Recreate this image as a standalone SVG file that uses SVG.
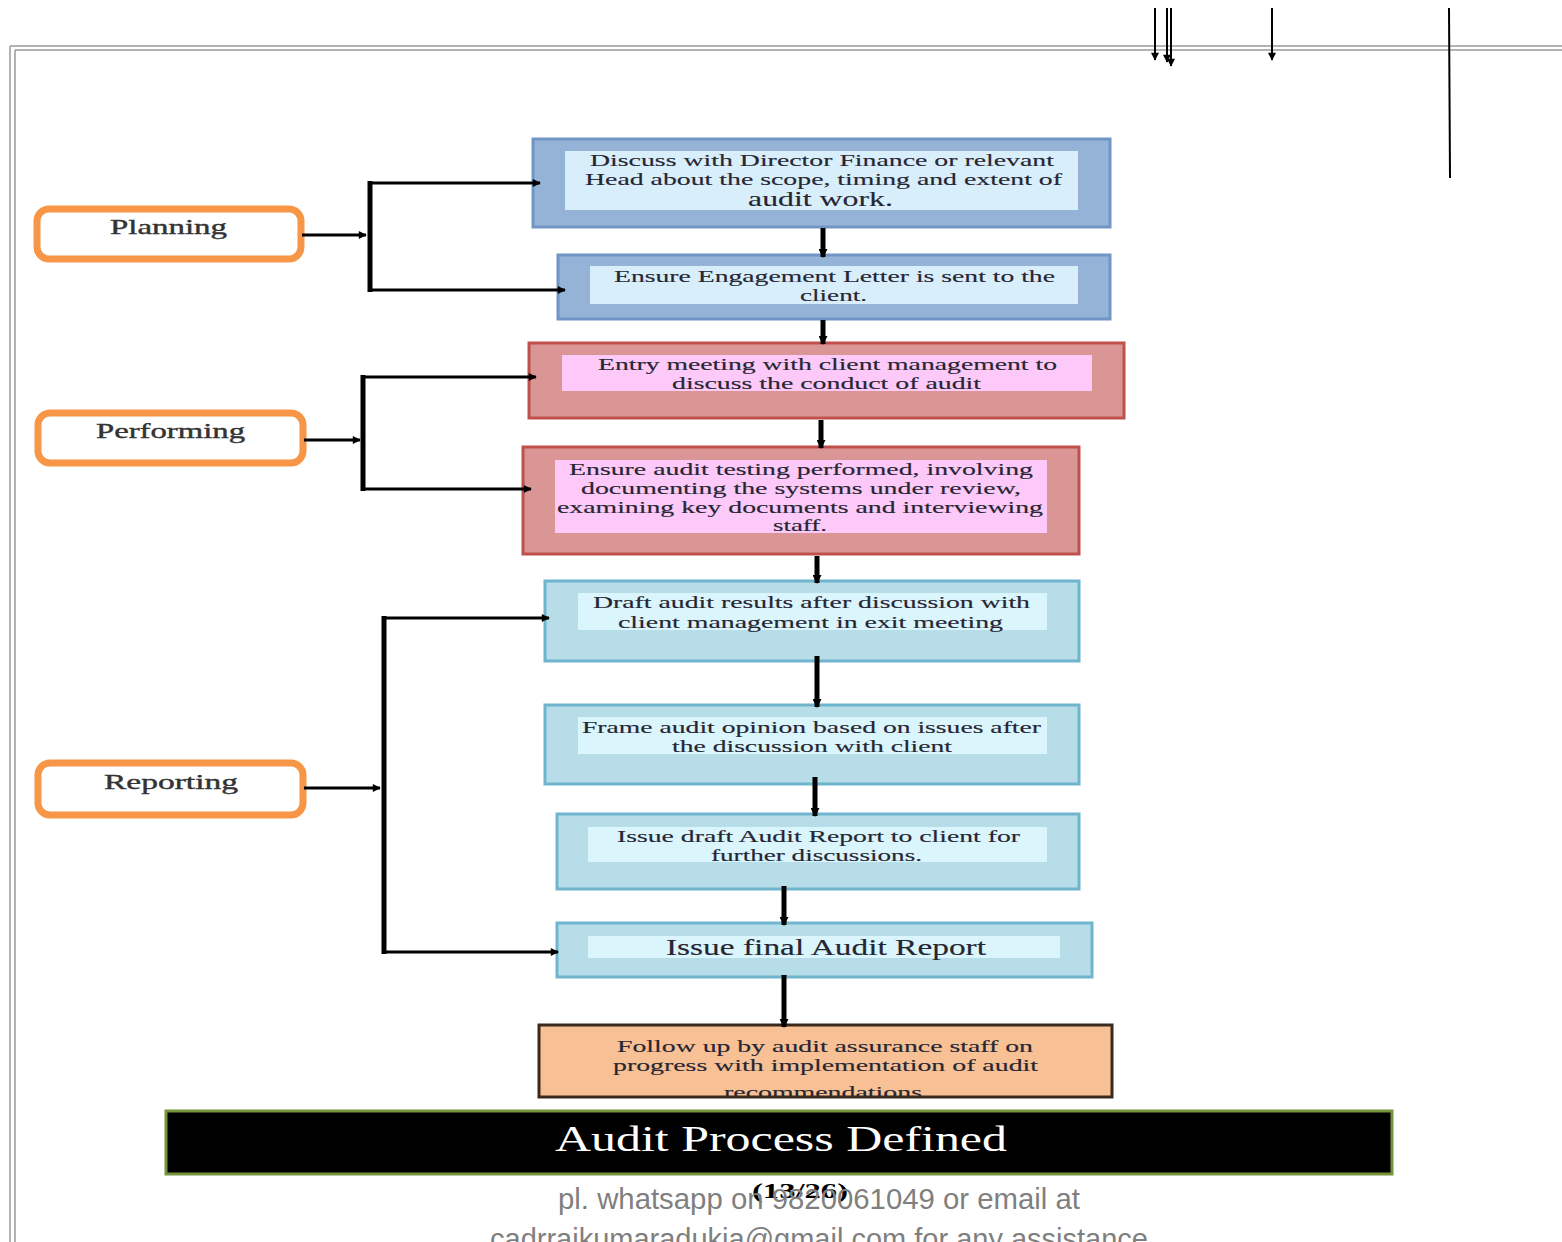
<svg xmlns="http://www.w3.org/2000/svg" width="1562" height="1242" viewBox="0 0 1562 1242">
<defs>
<style>
.t{font-family:"Liberation Serif","Times New Roman",serif;font-size:17.5px;fill:#262633;stroke:#262633;stroke-width:0.15;}
.big{font-size:21px;}
.ph{font-family:"Liberation Serif","Times New Roman",serif;font-size:22px;fill:#333333;stroke:#333333;stroke-width:0.4;}
.phase{fill:#ffffff;stroke:#f79646;stroke-width:7;}
.blueO{fill:#95b3d7;stroke:#7196c6;stroke-width:3;}
.blueI{fill:#d9eefb;}
.redO{fill:#d99694;stroke:#c0504d;stroke-width:3;}
.redI{fill:#fdc9f8;}
.tealO{fill:#b7dde8;stroke:#6eb5cd;stroke-width:3;}
.tealI{fill:#dbf5fc;}
.orO{fill:#f8c095;stroke:#3b2a1c;stroke-width:3;}
.down{stroke:#000;stroke-width:5;fill:none;}
.br{stroke:#000;stroke-width:3;fill:none;}
.brv{stroke:#000;stroke-width:5;fill:none;}
.thin{stroke:#000;stroke-width:2;fill:none;}
</style>
<marker id="ah" viewBox="0 0 10 10" refX="9" refY="5" markerWidth="10" markerHeight="9" markerUnits="userSpaceOnUse" orient="auto"><path d="M0,0 L10,5 L0,10 z" fill="#000"/></marker>
<marker id="ahs" viewBox="0 0 10 10" refX="9" refY="5" markerWidth="9" markerHeight="8" markerUnits="userSpaceOnUse" orient="auto"><path d="M0,0 L10,5 L0,10 z" fill="#000"/></marker>
<clipPath id="clip9"><rect x="538" y="1024" width="575" height="72"/></clipPath>
</defs>
<rect width="1562" height="1242" fill="#ffffff"/>

<g id="page-border">
<path d="M10,46 H1562 M10,46 V1242" stroke="#9a9a9a" stroke-width="1.5" fill="none"/>
<path d="M15,50 H1562 M15,50 V1242" stroke="#9a9a9a" stroke-width="1.5" fill="none"/>
</g>

<g id="planning">
<rect class="phase" x="37" y="209" width="264" height="50" rx="12"/>
<text class="ph" x="110" y="234" textLength="117" lengthAdjust="spacingAndGlyphs">Planning</text>
</g>
<g id="performing">
<rect class="phase" x="38" y="413" width="265" height="50" rx="12"/>
<text class="ph" x="96" y="438" textLength="149" lengthAdjust="spacingAndGlyphs">Performing</text>
</g>
<g id="reporting">
<rect class="phase" x="38" y="763" width="265" height="52" rx="12"/>
<text class="ph" x="104" y="789" textLength="134" lengthAdjust="spacingAndGlyphs">Reporting</text>
</g>

<g id="step1">
<rect class="blueO" x="533" y="139" width="577" height="88"/>
<rect class="blueI" x="565" y="151" width="513" height="59"/>
<text class="t" x="590" y="166" textLength="464" lengthAdjust="spacingAndGlyphs">Discuss with Director Finance or relevant</text>
<text class="t" x="585" y="185" textLength="477" lengthAdjust="spacingAndGlyphs">Head about the scope, timing and extent of</text>
<text class="t big" x="748" y="206" textLength="145" lengthAdjust="spacingAndGlyphs">audit work.</text>
</g>

<g id="step2">
<rect class="blueO" x="558" y="255" width="552" height="64"/>
<rect class="blueI" x="590" y="266" width="488" height="38"/>
<text class="t" x="614" y="282" textLength="441" lengthAdjust="spacingAndGlyphs">Ensure Engagement Letter is sent to the</text>
<text class="t" x="800" y="301" textLength="67" lengthAdjust="spacingAndGlyphs">client.</text>
</g>

<g id="step3">
<rect class="redO" x="529" y="343" width="595" height="75"/>
<rect class="redI" x="562" y="355" width="530" height="36"/>
<text class="t" x="598" y="370" textLength="459" lengthAdjust="spacingAndGlyphs">Entry meeting with client management to</text>
<text class="t" x="672" y="389" textLength="309" lengthAdjust="spacingAndGlyphs">discuss the conduct of audit</text>
</g>

<g id="step4">
<rect class="redO" x="523" y="447" width="556" height="107"/>
<rect class="redI" x="555" y="460" width="492" height="73"/>
<text class="t" x="569" y="475" textLength="464" lengthAdjust="spacingAndGlyphs">Ensure audit testing performed, involving</text>
<text class="t" x="581" y="494" textLength="440" lengthAdjust="spacingAndGlyphs">documenting the systems under review,</text>
<text class="t" x="557" y="513" textLength="486" lengthAdjust="spacingAndGlyphs">examining key documents and interviewing</text>
<text class="t" x="773" y="531" textLength="54" lengthAdjust="spacingAndGlyphs">staff.</text>
</g>

<g id="step5">
<rect class="tealO" x="545" y="581" width="534" height="80"/>
<rect class="tealI" x="578" y="593" width="469" height="37"/>
<text class="t" x="593" y="608" textLength="437" lengthAdjust="spacingAndGlyphs">Draft audit results after discussion with</text>
<text class="t" x="618" y="628" textLength="385" lengthAdjust="spacingAndGlyphs">client management in exit meeting</text>
</g>

<g id="step6">
<rect class="tealO" x="545" y="705" width="534" height="79"/>
<rect class="tealI" x="578" y="717" width="469" height="37"/>
<text class="t" x="582" y="733" textLength="459" lengthAdjust="spacingAndGlyphs">Frame audit opinion based on issues after</text>
<text class="t" x="672" y="752" textLength="280" lengthAdjust="spacingAndGlyphs">the discussion with client</text>
</g>

<g id="step7">
<rect class="tealO" x="557" y="814" width="522" height="75"/>
<rect class="tealI" x="588" y="827" width="459" height="35"/>
<text class="t" x="617" y="842" textLength="403" lengthAdjust="spacingAndGlyphs">Issue draft Audit Report to client for</text>
<text class="t" x="711" y="861" textLength="211" lengthAdjust="spacingAndGlyphs">further discussions.</text>
</g>

<g id="step8">
<rect class="tealO" x="557" y="923" width="535" height="54"/>
<rect class="tealI" x="588" y="936" width="472" height="22"/>
<text class="t" x="666" y="955" style="font-size:23px" textLength="320" lengthAdjust="spacingAndGlyphs">Issue final Audit Report</text>
</g>

<g id="step9">
<rect class="orO" x="539" y="1025" width="573" height="72"/>
<g clip-path="url(#clip9)">
<text class="t" x="617" y="1052" textLength="416" lengthAdjust="spacingAndGlyphs">Follow up by audit assurance staff on</text>
<text class="t" x="613" y="1071" textLength="425" lengthAdjust="spacingAndGlyphs">progress with implementation of audit</text>
<text class="t" x="724" y="1098" textLength="198" lengthAdjust="spacingAndGlyphs">recommendations</text>
</g>
</g>

<g id="title">
<rect x="166" y="1111" width="1226" height="63" fill="#000" stroke="#77933c" stroke-width="3"/>
<text x="555" y="1151" font-family="Liberation Serif, serif" font-size="35" fill="#ffffff" textLength="452" lengthAdjust="spacingAndGlyphs">Audit Process Defined</text>
</g>

<g id="connectors">
<line class="thin" x1="1155" y1="8" x2="1155" y2="60" marker-end="url(#ahs)"/>
<line class="thin" x1="1167" y1="8" x2="1167" y2="62" marker-end="url(#ahs)"/>
<line class="thin" x1="1171" y1="8" x2="1171" y2="66" marker-end="url(#ahs)"/>
<line class="thin" x1="1272" y1="8" x2="1272" y2="60" marker-end="url(#ahs)"/>
<line x1="1449" y1="8" x2="1450" y2="178" stroke="#000" stroke-width="2"/>

<line class="down" x1="823" y1="228" x2="823" y2="257" marker-end="url(#ah)"/>
<line class="down" x1="823" y1="320" x2="823" y2="344" marker-end="url(#ah)"/>
<line class="down" x1="821" y1="420" x2="821" y2="448" marker-end="url(#ah)"/>
<line class="down" x1="817" y1="556" x2="817" y2="583" marker-end="url(#ah)"/>
<line class="down" x1="817" y1="656" x2="817" y2="707" marker-end="url(#ah)"/>
<line class="down" x1="815" y1="777" x2="815" y2="816" marker-end="url(#ah)"/>
<line class="down" x1="784" y1="886" x2="784" y2="925" marker-end="url(#ah)"/>
<line class="down" x1="784" y1="975" x2="784" y2="1027" marker-end="url(#ah)"/>

<line class="br" x1="302" y1="235" x2="366" y2="235" marker-end="url(#ahs)"/>
<line class="brv" x1="370" y1="181" x2="370" y2="292"/>
<line class="br" x1="368" y1="183" x2="540" y2="183" marker-end="url(#ahs)"/>
<line class="br" x1="368" y1="290" x2="565" y2="290" marker-end="url(#ahs)"/>

<line class="br" x1="304" y1="440" x2="360" y2="440" marker-end="url(#ahs)"/>
<line class="brv" x1="363" y1="375" x2="363" y2="491"/>
<line class="br" x1="361" y1="377" x2="536" y2="377" marker-end="url(#ahs)"/>
<line class="br" x1="361" y1="489" x2="531" y2="489" marker-end="url(#ahs)"/>

<line class="br" x1="304" y1="788" x2="380" y2="788" marker-end="url(#ahs)"/>
<line class="brv" x1="384" y1="616" x2="384" y2="954"/>
<line class="br" x1="382" y1="618" x2="549" y2="618" marker-end="url(#ahs)"/>
<line class="br" x1="382" y1="952" x2="558" y2="952" marker-end="url(#ahs)"/>
</g>

<g id="footer">
<text x="752" y="1198" font-family="Liberation Serif, serif" font-size="22" font-weight="bold" fill="#000" textLength="96" lengthAdjust="spacingAndGlyphs">(13/26)</text>
<text x="558" y="1209" font-family="Liberation Sans Narrow, Liberation Sans, sans-serif" font-size="29" fill="#7f7f7f" textLength="522" lengthAdjust="spacingAndGlyphs">pl. whatsapp on 9820061049 or email at</text>
<text x="490" y="1249" font-family="Liberation Sans Narrow, Liberation Sans, sans-serif" font-size="29" fill="#7f7f7f" textLength="658" lengthAdjust="spacingAndGlyphs">cadrrajkumaradukia@gmail.com for any assistance</text>
</g>
</svg>
